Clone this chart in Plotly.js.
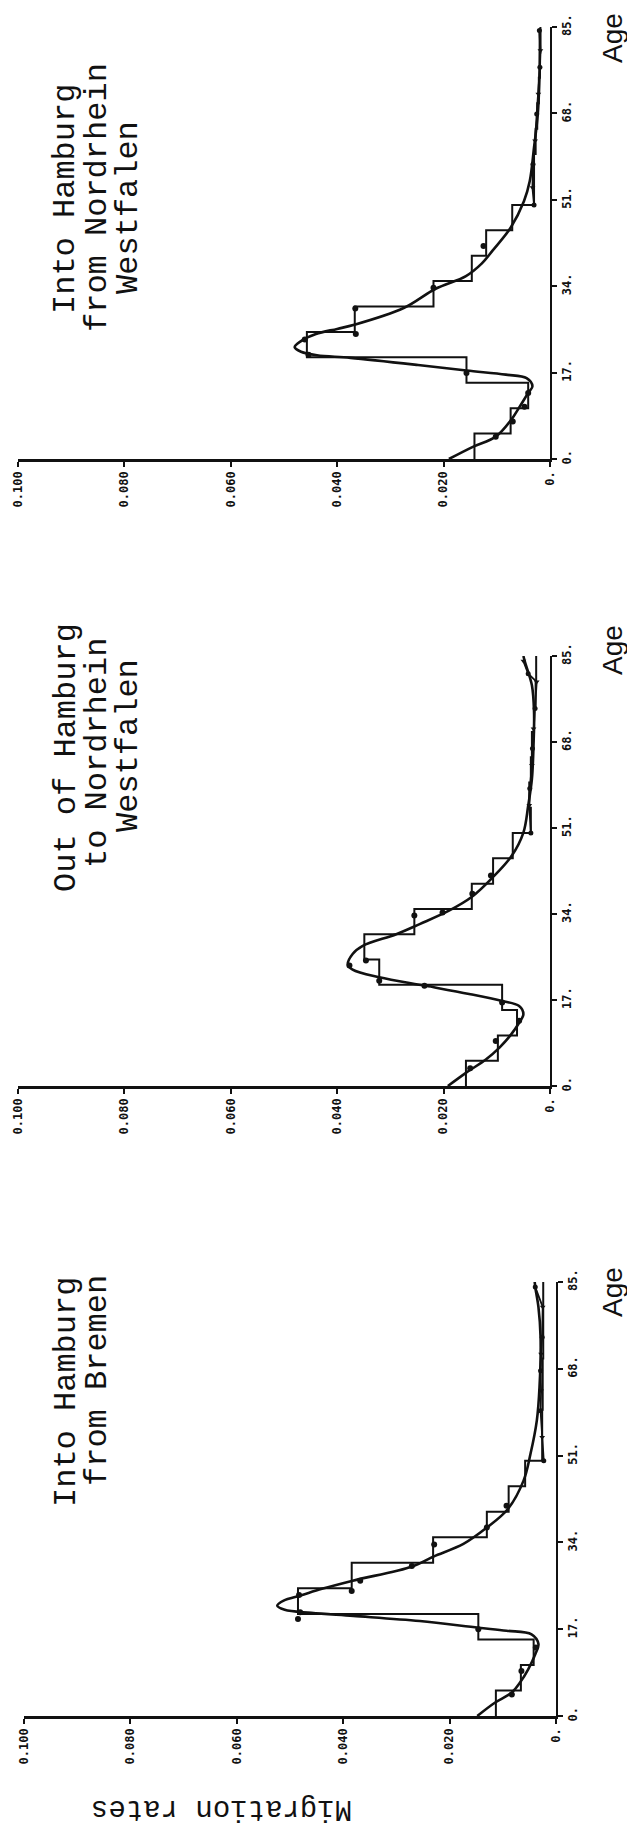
<!DOCTYPE html>
<html>
<head>
<meta charset="utf-8">
<script src="https://cdn.plot.ly/plotly-3.0.1.min.js"></script>
<style>html,body{margin:0;padding:0;background:#fff;}#chart{width:627px;height:1831px;}</style>
</head>
<body>
<div id="chart"></div>
<script>
// ---- ticks ----
const ageTicks = [0, 17, 34, 51, 68, 85];
const ageTickText = ["0.", "17.", "34.", "51.", "68.", "85."];
const rateTicks = [0.1, 0.08, 0.06, 0.04, 0.02, 0];
const rateTickText = ["0.100", "0.080", "0.060", "0.040", "0.020", "0."];
const groupStarts = [0, 5, 10, 15, 20, 25, 30, 35, 40, 45, 50, 55, 60, 65, 70, 75, 80];

// ---- Panel 1: Into Hamburg from Nordrhein Westfalen ----
const nrwInSteps = [0.0142, 0.0074, 0.0041, 0.0157, 0.0457, 0.0367, 0.0219, 0.0147, 0.0120, 0.0071, 0.0030, 0.0030, 0.0027, 0.0024, 0.0021, 0.0019, 0.0018];
const nrwInCurveAges = [0, 2.4, 4.4, 7.7, 10.3, 13.0, 14.3, 15.9, 16.6, 17.4, 18.5, 19.9, 20.4, 21.1, 22.0, 23.2, 24.6, 25.6, 26.4, 29.7, 33.5, 36.0, 38.5, 41.0, 45.5, 50.7, 54.7, 61.3, 67.8, 74.4, 80, 84.5];
const nrwInCurveRates = [0.0190, 0.0145, 0.0102, 0.0073, 0.0057, 0.0041, 0.0033, 0.0044, 0.0083, 0.0157, 0.0248, 0.0375, 0.0438, 0.0468, 0.0480, 0.0468, 0.0440, 0.0400, 0.0368, 0.0275, 0.0215, 0.0158, 0.0128, 0.0108, 0.0074, 0.0049, 0.0038, 0.0030, 0.0023, 0.0020, 0.0019, 0.0019];
const nrwInDotAges = [4.4, 7.4, 10.3, 13.0, 16.9, 20.5, 23.5, 24.6, 29.6, 33.7, 41.9];
const nrwInDotRates = [0.0102, 0.0070, 0.0048, 0.0041, 0.0157, 0.0454, 0.0461, 0.0365, 0.0366, 0.0219, 0.0125];
const nrwInTailAges = [50, 53.4, 58, 62.6, 67.9, 71.8, 77.1, 80.4, 84.3];
const nrwInTailRates = [0.0030, 0.0033, 0.0032, 0.0028, 0.0025, 0.0022, 0.0019, 0.0018, 0.0020];

// ---- Panel 2: Out of Hamburg to Nordrhein Westfalen ----
const nrwOutSteps = [0.0158, 0.0098, 0.0062, 0.0090, 0.0321, 0.0349, 0.0255, 0.0147, 0.0107, 0.0070, 0.0036, 0.0039, 0.0036, 0.0034, 0.0030, 0.0027, 0.0026];
const nrwOutCurveAges = [0, 2.6, 5.3, 7.6, 10.2, 12.5, 14.2, 15.8, 16.8, 18.2, 19.8, 21.5, 23.0, 24.0, 26.1, 27.7, 30.0, 32.0, 34.7, 37.3, 41.2, 45.5, 50.1, 55.4, 60.7, 67.3, 73.9, 79.2, 83.8, 85];
const nrwOutCurveRates = [0.0192, 0.0158, 0.0120, 0.0095, 0.0073, 0.0058, 0.0050, 0.0058, 0.0090, 0.0152, 0.0233, 0.0321, 0.0371, 0.0380, 0.0371, 0.0352, 0.0289, 0.0245, 0.0189, 0.0148, 0.0108, 0.0072, 0.0050, 0.0041, 0.0034, 0.0031, 0.0030, 0.0034, 0.0047, 0.0050];
const nrwOutDotAges = [3.5, 8.9, 12.9, 16.5, 19.8, 20.8, 23.8, 24.8, 33.7, 34.3, 38.0, 41.6];
const nrwOutDotRates = [0.0150, 0.0102, 0.0058, 0.0090, 0.0236, 0.0321, 0.0377, 0.0346, 0.0255, 0.0202, 0.0146, 0.0111];
const nrwOutTailAges = [50, 55.5, 58.8, 63.4, 66.7, 70.6, 74.6, 79.9, 81.5, 84];
const nrwOutTailRates = [0.0036, 0.0039, 0.0038, 0.0034, 0.0033, 0.0031, 0.0028, 0.0025, 0.0041, 0.0050];

// ---- Panel 3: Into Hamburg from Bremen ----
const bremenSteps = [0.0113, 0.0066, 0.0042, 0.0146, 0.0485, 0.0384, 0.0231, 0.0130, 0.0089, 0.0058, 0.0026, 0.0026, 0.0025, 0.0025, 0.0024, 0.0024, 0.0024];
const bremenCurveAges = [0, 2.6, 4.6, 6.5, 9.2, 12.1, 14.1, 16.0, 16.7, 17.3, 18.6, 19.6, 20.2, 20.8, 21.6, 22.6, 23.6, 24.9, 26.5, 29.3, 31.2, 33.7, 36.9, 40.6, 46.1, 51.3, 57.9, 64.4, 74.2, 80.1, 84, 85];
const bremenCurveRates = [0.0148, 0.0115, 0.0083, 0.0068, 0.0052, 0.0039, 0.0033, 0.0046, 0.0093, 0.0146, 0.0256, 0.0381, 0.0460, 0.0510, 0.0524, 0.0512, 0.0480, 0.0440, 0.0382, 0.0270, 0.0231, 0.0174, 0.0130, 0.0090, 0.0061, 0.0048, 0.0036, 0.0031, 0.0029, 0.0033, 0.0039, 0.0040];
const bremenDotAges = [4.2, 8.8, 13.4, 17.0, 19.0, 20.3, 23.7, 24.5, 26.5, 29.4, 33.6, 36.9, 41.2];
const bremenDotRates = [0.0083, 0.0065, 0.0038, 0.0146, 0.0485, 0.0481, 0.0483, 0.0384, 0.0368, 0.0271, 0.0229, 0.0130, 0.0093];
const bremenTailAges = [50, 54.6, 59.8, 63.7, 67.6, 70.9, 74.2, 80.1, 84];
const bremenTailRates = [0.0023, 0.0026, 0.0029, 0.0028, 0.0029, 0.0028, 0.0026, 0.0025, 0.0039];

const INK = '#111';
const H = 1831, W = 627;

function panelTraces(xa, ya, steps, cA, cR, dA, dR, tA, tR) {
  return [
    { type: 'scatter', mode: 'lines', xaxis: xa, yaxis: ya,
      x: steps.concat([steps[steps.length - 1]]), y: groupStarts.concat([85]),
      line: { color: INK, width: 2, shape: 'vh' }, hoverinfo: 'skip' },
    { type: 'scatter', mode: 'lines', xaxis: xa, yaxis: ya,
      x: cR, y: cA, line: { color: INK, width: 2.6, shape: 'spline', smoothing: 1 }, hoverinfo: 'skip' },
    { type: 'scatter', mode: 'markers', xaxis: xa, yaxis: ya,
      x: dR, y: dA, marker: { color: INK, size: 6, symbol: 'circle' }, hoverinfo: 'skip' },
    { type: 'scatter', mode: 'lines+markers', xaxis: xa, yaxis: ya,
      x: tR, y: tA, line: { color: INK, width: 1.8 },
      marker: { color: INK, size: 5, symbol: tA.map((a, i) => i % 2 ? 'triangle-down' : 'circle') }, hoverinfo: 'skip' }
  ];
}

const data = [].concat(
  panelTraces('x', 'y', nrwInSteps, nrwInCurveAges, nrwInCurveRates, nrwInDotAges, nrwInDotRates, nrwInTailAges, nrwInTailRates),
  panelTraces('x2', 'y2', nrwOutSteps, nrwOutCurveAges, nrwOutCurveRates, nrwOutDotAges, nrwOutDotRates, nrwOutTailAges, nrwOutTailRates),
  panelTraces('x3', 'y3', bremenSteps, bremenCurveAges, bremenCurveRates, bremenDotAges, bremenDotRates, bremenTailAges, bremenTailRates)
);

const tickFont = { family: 'DejaVu Sans Mono', size: 12, color: INK, weight: 'bold' };
function xAxis(anchor, left, right) {
  return { domain: [left / W, right / W], range: [0.1, 0], anchor: anchor,
    showline: true, linewidth: 2.5, linecolor: INK, ticks: 'outside', ticklen: 5, tickwidth: 2, tickcolor: INK,
    tickvals: rateTicks, ticktext: rateTickText, tickangle: -90, tickfont: tickFont,
    showgrid: false, zeroline: false, fixedrange: true };
}
function yAxis(anchor, topPx, botPx) {
  return { domain: [(H - botPx) / H, (H - topPx) / H], range: [0, 85], anchor: anchor, side: 'right',
    showline: true, linewidth: 2, linecolor: INK, ticks: 'outside', ticklen: 5, tickwidth: 2, tickcolor: INK,
    tickvals: ageTicks, ticktext: ageTickText, tickangle: -90, tickfont: tickFont,
    showgrid: false, zeroline: false, fixedrange: true };
}

function txt(text, px, py, size, family, angle) {
  return { text: text, xref: 'paper', yref: 'paper', x: px / W, y: 1 - py / H,
    xanchor: 'center', yanchor: 'middle', showarrow: false, textangle: angle,
    font: { family: family, size: size, color: INK } };
}
const mono = 'Liberation Mono, Courier New, monospace';
const sans = 'Liberation Sans, Arial, sans-serif';

const layout = {
  width: W, height: H, margin: { l: 0, r: 0, t: 0, b: 0 },
  paper_bgcolor: '#fff', plot_bgcolor: '#fff', showlegend: false,
  xaxis: xAxis('y', 18, 550), yaxis: yAxis('x', 27, 459),
  xaxis2: xAxis('y2', 18, 550), yaxis2: yAxis('x2', 656, 1086),
  xaxis3: xAxis('y3', 24, 556), yaxis3: yAxis('x3', 1282, 1716),
  annotations: [
    txt('Into Hamburg', 66, 199, 32, mono, -90),
    txt('from Nordrhein', 97, 198, 32, mono, -90),
    txt('Westfalen', 128, 208, 32, mono, -90),
    txt('Out of Hamburg', 66, 758, 32, mono, -90),
    txt('to Nordrhein', 97, 753, 32, mono, -90),
    txt('Westfalen', 128, 746, 32, mono, -90),
    txt('Into Hamburg', 66, 1392, 32, mono, -90),
    txt('from Bremen', 97, 1381, 32, mono, -90),
    txt('Age', 612, 38, 28, sans, -90),
    txt('Age', 612, 650, 28, sans, -90),
    txt('Age', 612, 1292, 28, sans, -90),
    txt('Migration rates', 222, 1809, 29, mono, 180)
  ]
};

Plotly.newPlot('chart', data, layout, { staticPlot: true, displayModeBar: false });
</script>
</body>
</html>
